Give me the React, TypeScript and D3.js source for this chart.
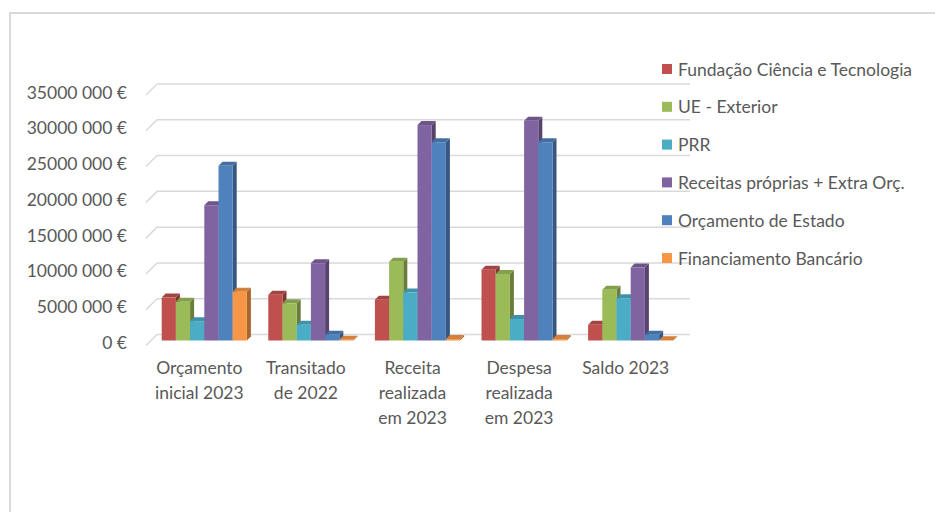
import React from "react";
import * as d3 from "d3";

const categories = [
  ["Orçamento", "inicial 2023"],
  ["Transitado", "de 2022"],
  ["Receita", "realizada", "em 2023"],
  ["Despesa", "realizada", "em 2023"],
  ["Saldo 2023"],
];

const seriesNames = [
  "Fundação Ciência e Tecnologia",
  "UE - Exterior",
  "PRR",
  "Receitas próprias + Extra Orç.",
  "Orçamento de Estado",
  "Financiamento Bancário",
];

const seriesColors = ["#C0504D", "#9BBB59", "#4BACC6", "#8064A2", "#4F81BD", "#F79646"];

// values per series, one per category (euros)
const fct = [6000000, 6400000, 5700000, 9900000, 2200000];
const ueExterior = [5400000, 5200000, 11000000, 9300000, 7100000];
const prr = [2700000, 2200000, 6700000, 3000000, 5900000];
const receitasProprias = [18900000, 10800000, 30100000, 30700000, 10200000];
const orcamentoEstado = [24400000, 800000, 27700000, 27700000, 800000];
const financiamento = [6800000, 100000, 200000, 200000, 50000];

const seriesValues = [fct, ueExterior, prr, receitasProprias, orcamentoEstado, financiamento];

const yTicks = [0, 5000000, 10000000, 15000000, 20000000, 25000000, 30000000, 35000000];
const yTickLabels = ["0 €", "5000 000 €", "10000 000 €", "15000 000 €", "20000 000 €", "25000 000 €", "30000 000 €", "35000 000 €"];

const FONT = "Lato, 'Open Sans', sans-serif";
const FS = 17.5;
const TEXT = "#595959";
const GRID = "#d9d9d9";

export default function App() {
  const depth = 11; // floor depth (front -> back wall)
  const k = 5; // bar plane offset from front
  const s = 4; // bar 3D thickness
  const frontLeft = 146;
  const frontRight = 679;

  // back wall scale
  const yBack = d3.scaleLinear().domain([0, 35000000]).range([334.5, 84]);
  const x = d3.scaleBand<number>()
    .domain(d3.range(categories.length))
    .range([frontLeft, frontRight]);
  const barW = 14.2;
  const xs = d3.scaleBand<number>()
    .domain(d3.range(seriesNames.length))
    .range([0, barW * seriesNames.length]);

  const yBar = (v: number) => yBack(v) + (depth - k);
  const base = yBar(0);

  const bars: React.ReactNode[] = [];
  categories.forEach((_, ci) => {
    const groupX = x(ci)! + x.bandwidth() / 2 - (barW * seriesNames.length) / 2 + k;
    seriesValues.forEach((vals, si) => {
      const x0 = groupX + xs(si)!;
      const x1 = x0 + xs.bandwidth();
      const yt = yBar(vals[ci]);
      const c = d3.color(seriesColors[si])!;
      const top = c.darker(0.45).toString();
      const side = c.darker(1.1).toString();
      bars.push(
        <g key={`${ci}-${si}`}>
          <polygon
            points={`${x1},${yt} ${x1 + s},${yt - s} ${x1 + s},${base - s} ${x1},${base}`}
            fill={side}
          />
          <polygon
            points={`${x0},${yt} ${x0 + s},${yt - s} ${x1 + s},${yt - s} ${x1},${yt}`}
            fill={top}
          />
          <rect x={x0} y={yt} width={x1 - x0} height={Math.max(0, base - yt)} fill={seriesColors[si]} />
        </g>
      );
    });
  });

  return (
    <svg
      width={935}
      height={512}
      style={{ position: "absolute", left: 0, top: 0, background: "#fff" }}
      fontFamily={FONT}
    >
      {/* chart frame */}
      <path d="M10,512 L10,13 L935,13" fill="none" stroke={GRID} strokeWidth={2} />

      {/* gridlines on side wall and back wall */}
      {yTicks.map((t) => (
        <g key={t}>
          <line
            x1={frontLeft}
            y1={yBack(t) + depth}
            x2={frontLeft + depth}
            y2={yBack(t)}
            stroke={GRID}
            strokeWidth={1.5}
          />
          <line
            x1={frontLeft + depth}
            y1={yBack(t)}
            x2={frontRight + depth}
            y2={yBack(t)}
            stroke={GRID}
            strokeWidth={1.5}
          />
        </g>
      ))}

      {/* y tick labels */}
      {yTicks.map((t, i) => (
        <text
          key={t}
          x={127}
          y={yBack(t) + depth - 3}
          textAnchor="end"
          dominantBaseline="central"
          fontSize={FS}
          fill={TEXT}
        >
          {yTickLabels[i]}
        </text>
      ))}

      {bars}

      {/* category labels */}
      {categories.map((lines, ci) => (
        <text
          key={ci}
          x={x(ci)! + x.bandwidth() / 2}
          textAnchor="middle"
          fontSize={FS}
          fill={TEXT}
        >
          {lines.map((ln, li) => (
            <tspan key={li} x={x(ci)! + x.bandwidth() / 2} y={374 + li * 25}>
              {ln}
            </tspan>
          ))}
        </text>
      ))}

      {/* legend */}
      {seriesNames.map((name, i) => {
        const cy = 69 + i * 37.8;
        return (
          <g key={name}>
            <rect x={662} y={cy - 5} width={10} height={10} fill={seriesColors[i]} />
            <text x={678} y={cy} dominantBaseline="central" fontSize={FS} fill={TEXT}>
              {name}
            </text>
          </g>
        );
      })}
    </svg>
  );
}
